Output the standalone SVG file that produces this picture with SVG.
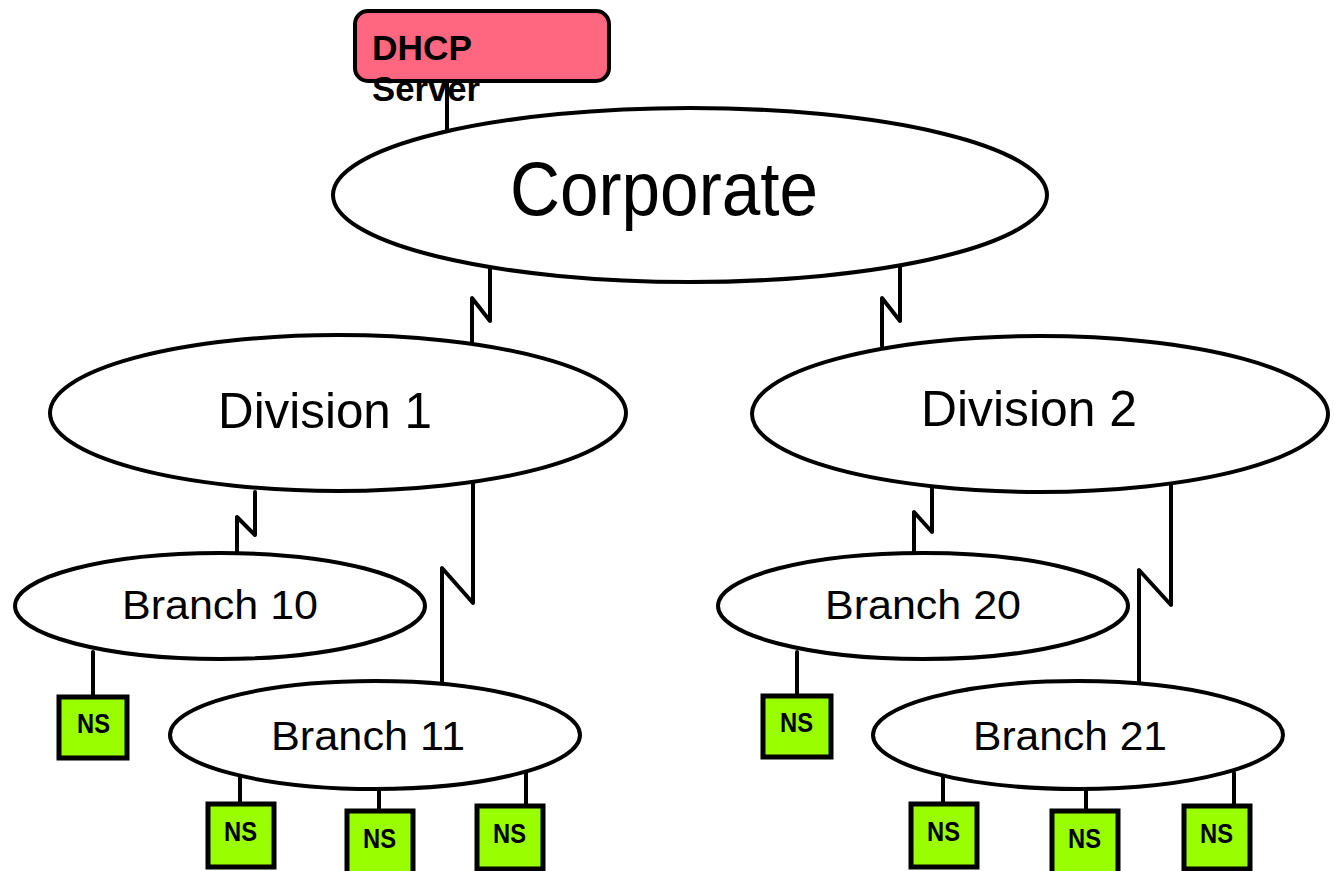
<svg xmlns="http://www.w3.org/2000/svg" width="1334" height="871" viewBox="0 0 1334 871">
<style>
.ell{fill:#fff;stroke:#000;stroke-width:4}
.ns{fill:#99FF00;stroke:#000;stroke-width:5}
.ln{fill:none;stroke:#000;stroke-width:4;stroke-linecap:round;stroke-linejoin:round}
.t{font-family:"Liberation Sans",Arial,sans-serif;fill:#000}
.nst{font-family:"Liberation Sans",Arial,sans-serif;font-weight:bold;font-size:27px}
.dh{font-family:"Liberation Sans",Arial,sans-serif;font-weight:bold;font-size:35px}
</style>
<rect width="1334" height="871" fill="#fff"/>
<g id="connectors">
<path class="ln" d="M447 80V130"/>
<path class="ln" d="M490 265V321L472 298V345"/>
<path class="ln" d="M900 265V321L882 298V346"/>
<path class="ln" d="M255 492V535L237 517V555"/>
<path class="ln" d="M473 478V603L442 568V683"/>
<path class="ln" d="M932 485V532L914 512V552"/>
<path class="ln" d="M1171 480V605L1139 570V686"/>
<path class="ln" d="M93 652V697"/>
<path class="ln" d="M240 768V803"/>
<path class="ln" d="M379 786V810"/>
<path class="ln" d="M526 773V806"/>
<path class="ln" d="M797 652V695"/>
<path class="ln" d="M943 768V803"/>
<path class="ln" d="M1086 786V810"/>
<path class="ln" d="M1234 773V806"/>
</g>
<g id="dhcp">
<rect x="355" y="11" width="254" height="70" rx="13" fill="#FF6680" stroke="#000" stroke-width="4"/>
<text class="dh" x="372" y="60" textLength="100" lengthAdjust="spacingAndGlyphs">DHCP</text>
<text class="dh" x="372" y="101" textLength="108" lengthAdjust="spacingAndGlyphs">Server</text>
</g>
<g id="corporate">
<ellipse class="ell" cx="690" cy="195" rx="357" ry="87"/>
<text class="t" x="510" y="215" font-size="76" textLength="308" lengthAdjust="spacingAndGlyphs">Corporate</text>
</g>
<g id="division1">
<ellipse class="ell" cx="338" cy="413" rx="288" ry="78"/>
<text class="t" x="218" y="428" font-size="50" textLength="214" lengthAdjust="spacingAndGlyphs">Division 1</text>
</g>
<g id="division2">
<ellipse class="ell" cx="1040" cy="414" rx="288" ry="78"/>
<text class="t" x="921" y="426" font-size="50" textLength="216" lengthAdjust="spacingAndGlyphs">Division 2</text>
</g>
<g id="branch10">
<ellipse class="ell" cx="220" cy="606" rx="205" ry="53"/>
<text class="t" x="122" y="619" font-size="40" textLength="196" lengthAdjust="spacingAndGlyphs">Branch 10</text>
</g>
<g id="branch11">
<ellipse class="ell" cx="375" cy="735" rx="205" ry="54"/>
<text class="t" x="271" y="750" font-size="40" textLength="194" lengthAdjust="spacingAndGlyphs">Branch 11</text>
</g>
<g id="branch20">
<ellipse class="ell" cx="923" cy="606" rx="205" ry="53"/>
<text class="t" x="825" y="619" font-size="40" textLength="196" lengthAdjust="spacingAndGlyphs">Branch 20</text>
</g>
<g id="branch21">
<ellipse class="ell" cx="1078" cy="735" rx="205" ry="54"/>
<text class="t" x="973" y="750" font-size="40" textLength="194" lengthAdjust="spacingAndGlyphs">Branch 21</text>
</g>
<g id="ns10"><rect class="ns" x="59" y="697" width="68" height="61"/><text class="nst" x="77" y="733" textLength="33" lengthAdjust="spacingAndGlyphs">NS</text></g>
<g id="ns11a"><rect class="ns" x="208" y="804" width="66" height="63"/><text class="nst" x="224" y="841" textLength="33" lengthAdjust="spacingAndGlyphs">NS</text></g>
<g id="ns11b"><rect class="ns" x="347" y="811" width="66" height="63"/><text class="nst" x="363" y="848" textLength="33" lengthAdjust="spacingAndGlyphs">NS</text></g>
<g id="ns11c"><rect class="ns" x="477" y="806" width="66" height="63"/><text class="nst" x="493" y="843" textLength="33" lengthAdjust="spacingAndGlyphs">NS</text></g>
<g id="ns20"><rect class="ns" x="763" y="696" width="68" height="61"/><text class="nst" x="780" y="732" textLength="33" lengthAdjust="spacingAndGlyphs">NS</text></g>
<g id="ns21a"><rect class="ns" x="911" y="804" width="66" height="63"/><text class="nst" x="927" y="841" textLength="33" lengthAdjust="spacingAndGlyphs">NS</text></g>
<g id="ns21b"><rect class="ns" x="1052" y="811" width="66" height="63"/><text class="nst" x="1068" y="848" textLength="33" lengthAdjust="spacingAndGlyphs">NS</text></g>
<g id="ns21c"><rect class="ns" x="1184" y="806" width="66" height="63"/><text class="nst" x="1200" y="843" textLength="33" lengthAdjust="spacingAndGlyphs">NS</text></g>
</svg>
